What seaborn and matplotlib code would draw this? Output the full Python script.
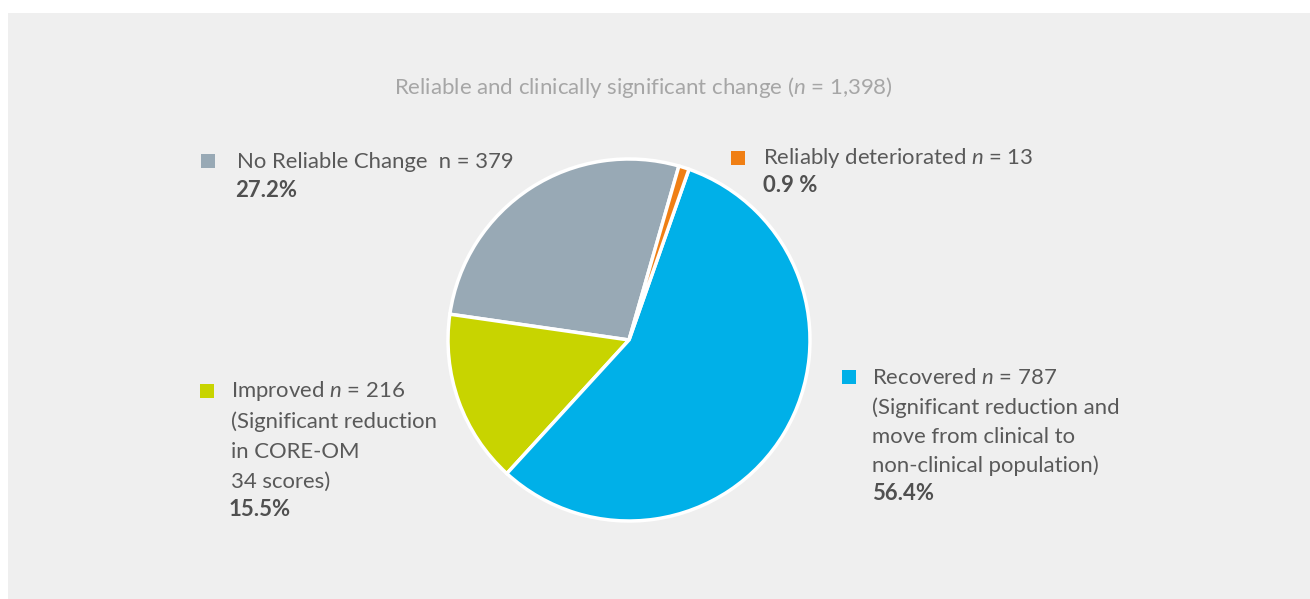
import matplotlib.pyplot as plt
from matplotlib.patches import Rectangle
import seaborn as sns

sns.set_style("white")
plt.rcParams['font.family'] = ['Lato', 'DejaVu Sans']
plt.rcParams['mathtext.fontset'] = 'custom'
plt.rcParams['mathtext.it'] = 'Lato:italic'
plt.rcParams['mathtext.rm'] = 'Lato'

# data (counter-clockwise order from the start angle)
groups = ["No Reliable Change", "Improved", "Recovered", "Reliably deteriorated"]
counts = [379, 216, 787, 13]
percents = ["27.2%", "15.5%", "56.4%", "0.9 %"]
colors = ["#98A9B5", "#C8D400", "#00B0E8", "#F07F14"]
title = "Reliable and clinically significant change ($\\it{n}$ = 1,398)"

label_lines = [
    ["No Reliable Change  n = 379"],
    ["Improved $\\it{n}$ = 216", "(Significant reduction", "in CORE-OM", "34 scores)"],
    ["Recovered $\\it{n}$ = 787", "(Significant reduction and",
     "move from clinical to", "non-clinical population)"],
    ["Reliably deteriorated $\\it{n}$ = 13"],
]

W, H = 1310, 599
fig = plt.figure(figsize=(W / 100, H / 100), dpi=100)
fig.patch.set_facecolor("white")


def fx(px):
    return px / W


def fy(py):
    return 1 - py / H


# grey panel
fig.patches.append(Rectangle((fx(8), 0), 1 - fx(8), fy(13), transform=fig.transFigure,
                             facecolor="#EFEFEF", edgecolor="none", zorder=-5))

cx, cy, r = 629, 340, 181
ax = fig.add_axes([fx(cx - r), fy(cy + r), 2 * r / W, 2 * r / H])
wedges, _ = ax.pie(counts, colors=colors, startangle=74, counterclock=True,
                   wedgeprops=dict(edgecolor="white", linewidth=2.5))
for w in wedges:
    w.set_clip_on(False)
ax.set_aspect("equal")
ax.set_xlim(-1.0, 1.0)
ax.set_ylim(-1.0, 1.0)
ax.axis("off")

fig.text(fx(643), fy(87), title, ha="center", va="center", fontsize=16, color="#A6A6A6")

text_col = "#595959"
# (marker x, marker y, text x, first line y, pct x, pct y)
placements = [
    (208, 161, 237, 162, 235, 190),
    (207, 391, 231, 391, 229, 509),
    (849, 377, 872, 378, 872, 494),
    (738, 158, 763, 158, 763, 186),
]
line_step = [0, 30.3, 29.3, 0]

for i, (mx, my, tx, ty, px, py) in enumerate(placements):
    sq = 14
    fig.patches.append(Rectangle((fx(mx - sq / 2), fy(my + sq / 2)), sq / W, sq / H,
                                 transform=fig.transFigure, facecolor=colors[i],
                                 edgecolor="none"))
    for k, line in enumerate(label_lines[i]):
        fig.text(fx(tx), fy(ty + k * line_step[i]), line, ha="left", va="center",
                 fontsize=15.9, color=text_col)
    fig.text(fx(px), fy(py), percents[i], ha="left", va="center", fontsize=15.9,
             fontweight="bold", color="#505050")

fig.savefig("out.png", dpi=100, facecolor=fig.get_facecolor())
